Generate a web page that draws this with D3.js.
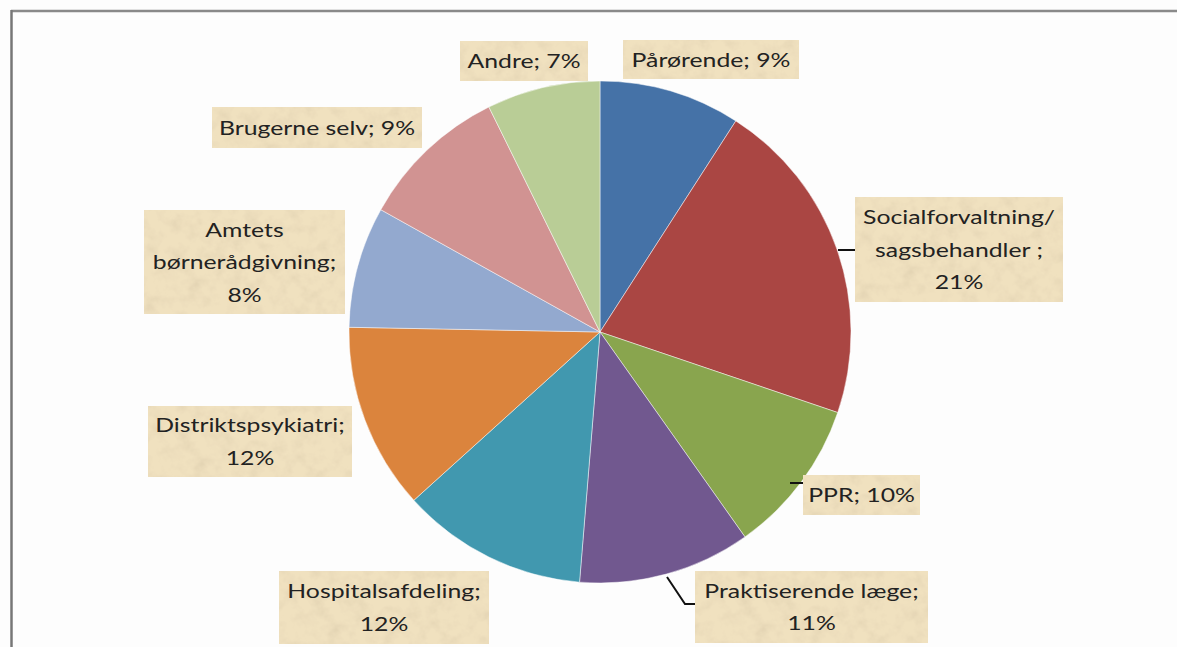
<!DOCTYPE html>
<html><head><meta charset="utf-8">
<script src="https://cdn.jsdelivr.net/npm/d3@7"></script>
<style>
html,body{margin:0;padding:0;background:#fdfdfd;}
svg{display:block;}
text{font-family:Lato,"Open Sans",sans-serif;fill:#222;}
</style></head>
<body>
<svg id="chart" width="1177" height="647"></svg>
<script>
// Data
const categories = ["Pårørende","Socialforvaltning/ sagsbehandler","PPR","Praktiserende læge","Hospitalsafdeling","Distriktspsykiatri","Amtets børnerådgivning","Brugerne selv","Andre"];
const values = [9.1, 21.1, 10.0, 11.1, 12.0, 12.0, 7.8, 9.6, 7.3];
const percentLabels = ["9%","21%","10%","11%","12%","12%","8%","9%","7%"];
const labelLines = [
  ["Pårørende; 9%"],
  ["Socialforvaltning/","sagsbehandler ;","21%"],
  ["PPR; 10%"],
  ["Praktiserende læge;","11%"],
  ["Hospitalsafdeling;","12%"],
  ["Distriktspsykiatri;","12%"],
  ["Amtets","børnerådgivning;","8%"],
  ["Brugerne selv; 9%"],
  ["Andre; 7%"]
];
const colors = ["#4572A7","#AA4643","#89A54E","#71588F","#4198AF","#DB843D","#93A9CF","#D19392","#B9CD96"];

// Layout (label box centres and leader lines)
const labelCenters = [[711,59.5],[959,249.5],[861.5,495],[811.5,607],[384,607.5],[250,441.5],[244.5,262],[317,127.5],[524,61]];
const boxSizes = [[176,39],[208,105],[117,40],[233,72],[210,73],[204,71],[201,104],[210,41],[128,40]];
const leaders = [null, [[838,250],[855,250]], [[790,483],[803,483]], [[667,577],[685,604],[695,604]], null, null, null, null, null];

const svg = d3.select("#chart");
const W = 1177, H = 647;
const cx = 600, cy = 332, R = 251;

// defs: parchment texture
const defs = svg.append("defs");
const f = defs.append("filter").attr("id","parch").attr("x",0).attr("y",0).attr("width",1).attr("height",1);
f.append("feTurbulence").attr("type","fractalNoise").attr("baseFrequency","0.07").attr("numOctaves",4).attr("seed",7).attr("result","n");
f.append("feColorMatrix").attr("in","n").attr("type","matrix")
 .attr("values","0 0 0 0 0.60  0 0 0 0 0.50  0 0 0 0 0.34  0.7 0 0 0 -0.30").attr("result","tint");
f.append("feComposite").attr("in","tint").attr("in2","SourceGraphic").attr("operator","atop");

// frame
svg.append("rect").attr("x",0).attr("y",0).attr("width",W).attr("height",H).attr("fill","#fdfdfd");
svg.append("line").attr("x1",11).attr("x2",W).attr("y1",11).attr("y2",11).attr("stroke","#8a8a8a").attr("stroke-width",2.5);
svg.append("line").attr("x1",11.5).attr("x2",11.5).attr("y1",10).attr("y2",H).attr("stroke","#777").attr("stroke-width",2.5);

const data = categories.map((c,i)=>({name:c, value:values[i], color:colors[i], lines:labelLines[i], pct:percentLabels[i], center:labelCenters[i], size:boxSizes[i], leader:leaders[i]}));

const pie = d3.pie().value(d=>d.value).sort(null).startAngle(0).endAngle(2*Math.PI);
const arc = d3.arc().innerRadius(0).outerRadius(R);

const g = svg.append("g").attr("transform",`translate(${cx},${cy})`);
g.selectAll("path").data(pie(data)).join("path")
 .attr("d",arc).attr("fill",d=>d.data.color).attr("stroke","#ffffff").attr("stroke-width",0.8).attr("stroke-opacity",0.6);

// leader lines
const line = d3.line();
svg.selectAll("path.leader").data(data.filter(d=>d.leader)).join("path")
 .attr("class","leader").attr("d",d=>line(d.leader)).attr("fill","none").attr("stroke","#111").attr("stroke-width",2);

// labels
const lg = svg.selectAll("g.lab").data(data).join("g").attr("class","lab")
 .attr("transform",d=>`translate(${d.center[0]},${d.center[1]})`);
lg.append("rect")
 .attr("x",d=>-d.size[0]/2).attr("y",d=>-d.size[1]/2)
 .attr("width",d=>d.size[0]).attr("height",d=>d.size[1])
 .attr("fill","#f0e1bf").attr("filter","url(#parch)");
const LH = 32.5;
lg.each(function(d){
  const n = d.lines.length;
  const t = d3.select(this).append("text").attr("text-anchor","middle").attr("font-size",20)
    .attr("transform","scale(1.24,1)");
  d.lines.forEach((s,k)=>{
    t.append("tspan").attr("x",0).attr("y",(k-(n-1)/2)*LH).attr("dy","0.36em").text(s);
  });
});
</script>
</body></html>
